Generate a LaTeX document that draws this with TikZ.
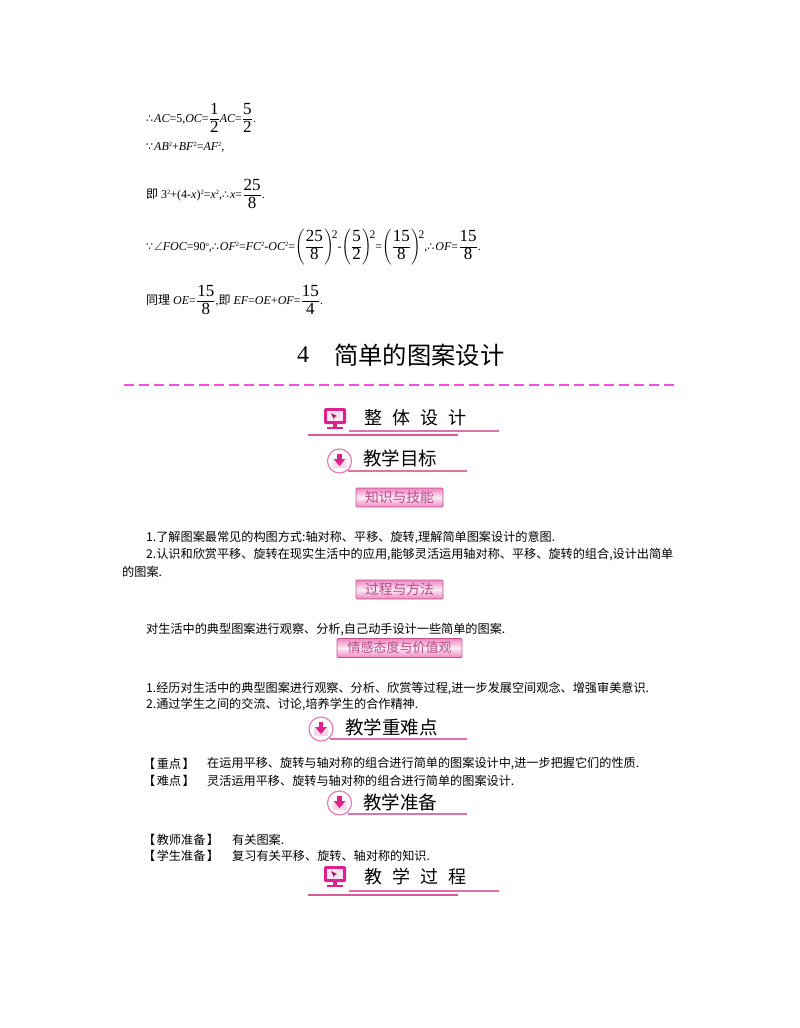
\documentclass[tikz,border=0pt]{standalone}
\usepackage{amsmath,amssymb}
\usepackage{graphicx}
\usepackage{fontspec}
\setmainfont{Noto Sans CJK SC}
\newfontfamily\lat{Liberation Serif}
\newfontfamily\symf{DejaVu Sans}
\usetikzlibrary{arrows, arrows.meta}
\usetikzlibrary{calc}
\definecolor{rosa}{HTML}{D9589F}
\definecolor{magen}{HTML}{E0208C}
\definecolor{dashpink}{HTML}{F84FE0}
\newcommand{\fsize}[1]{\fontsize{#1}{#1}\selectfont}
\setlength{\nulldelimiterspace}{1.3pt}
\newcommand{\fr}[2]{\ensuremath{\dfrac{\hbox{\fsize{17}\lat #1}}{\hbox{\fsize{17}\lat #2}}}}
\newcommand{\ii}[1]{{\lat\itshape #1}}
\newcommand{\sq}{\raisebox{3.8pt}{\fsize{6.5}\lat 2}}
\newcommand{\so}{{\fsize{11}\symf ∴}\kern1pt}
\newcommand{\since}{{\fsize{11}\symf ∵}\kern1pt}
\newcommand{\pw}[1]{\ensuremath{\left(\fr#1\right)}\kern-2pt\raisebox{12pt}{\fsize{11.5}\lat 2}}
\tikzset{
    body/.style={anchor=west, inner sep=0pt, yshift=-1.5pt, font=\fsize{12.15}},
    mathline/.style={anchor=west, inner sep=0pt, font=\fsize{12}\lat},
    headbig/.style={anchor=west, inner sep=0pt, font=\fsize{18}},
    headmid/.style={anchor=west, inner sep=0pt, font=\fsize{18.5}},
    tagbox/.style={draw=rosa!90!black, line width=0.7pt, rounded corners=1pt, top color=magen!55, bottom color=magen!55, middle color=magen!8, text=rosa!85!black, inner sep=0pt, font=\fsize{13.8}, minimum height=19pt},
    thinrule/.style={draw=rosa!85, line width=1.15pt},
    thickrule/.style={draw=rosa, line width=1.5pt},
    pics/screen/.style={code={
        \fill [magen, rounded corners=1.5pt] (0,0) rectangle (22,16);
        \fill [magen!12] (3,3) rectangle (19,13);
        \fill [magen!70!black] (7,5) -- (13,8) -- (10.5,9) -- (10,11.5) -- cycle;
        \fill [magen] (9,16) rectangle (13,18.5);
        \fill [magen] (3,18.5) rectangle (19,21);
    }},
    pics/mailcircle/.style={code={
        \draw [rosa!80, fill=white, line width=1.15pt] (0,0) circle (12);
        \fill [magen!18] (-7,-1) -- (0,4) -- (7,-1) -- (7,7) -- (-7,7) -- cycle;
        \fill [magen] (-2.2,-7) rectangle (2.2,-1);
        \fill [magen] (-6,-2) -- (6,-2) -- (0,5) -- cycle;
    }}
}
\begin{document}
\begin{tikzpicture}[x=1pt,y=-1pt]
    \useasboundingbox (0,0) rectangle (800,1028);

    % rules
    \draw [draw=dashpink, line width=1.15pt, dash pattern=on 10pt off 5pt] (124,385) -- (677,385);
    \draw [thinrule] (349,431) -- (499,431);
    \draw [thickrule] (308,435) -- (458,435);
    \draw [thinrule] (348,471) -- (467,471);
    \draw [thinrule] (330,739) -- (467,739);
    \draw [thinrule] (348,814) -- (467,814);
    \draw [thinrule] (349,891) -- (499,891);
    \draw [thickrule] (308,895) -- (458,895);

    % worked solution
    \node [mathline] (lineone) at (146,118) {\so\ii{AC}=5,\ii{OC}=\fr{1}{2}\ii{AC}=\fr{5}{2}.};
    \node [mathline] (linetwo) at (146,147) {\since\ii{AB}\sq+\ii{BF}\sq=\ii{AF}\sq,};
    \node [mathline] (linethree) at (146,194) {{\fsize{12}\rmfamily 即} 3\sq+(4-\ii{x})\sq=\ii{x}\sq,\so\ii{x}=\fr{25}{8}.};
    \node [mathline] (linefour) at (146,247) {\since$\angle$\ii{FOC}=90\raisebox{3.8pt}{\fsize{6.5}o},\so\ii{OF}\sq=\ii{FC}\sq-\ii{OC}\sq=\pw{{25}{8}}-\pw{{5}{2}}=\pw{{15}{8}},\so\ii{OF}=\fr{15}{8}.};
    \node [mathline] (linefive) at (146,300) {{\fsize{12}\rmfamily 同理} \ii{OE}=\fr{15}{8},{\fsize{12}\rmfamily 即} \ii{EF}=\ii{OE}+\ii{OF}=\fr{15}{4}.};

    % title
    \node [anchor=west, inner sep=0pt, font=\fsize{24}] (titlenum) at (297,355) {\lat 4};
    \node [anchor=west, inner sep=0pt, font=\fsize{24.3}] (title) at (334,355) {简单的图案设计};

    % first heading
    \pic at (324,408) {screen};
    \node [headbig] (headone) at (364,418) {整\hspace{10pt}体\hspace{10pt}设\hspace{10pt}计};

    \pic at (339.5,461) {mailcircle};
    \node [headmid] (headgoal) at (363,458) {教学目标};

    \node [tagbox, minimum width=87pt] (tagone) at (399.5,497.5) {知识与技能};
    \node [body] (goalone) at (146,536) {1.了解图案最常见的构图方式:轴对称、平移、旋转,理解简单图案设计的意图.};
    \node [body] (goaltwo) at (146,552.5) {2.认识和欣赏平移、旋转在现实生活中的应用,能够灵活运用轴对称、平移、旋转的组合,设计出简单};
    \node [body] (goaltwob) at (122,570) {的图案.};

    \node [tagbox, minimum width=87pt] (tagtwo) at (399.5,589.5) {过程与方法};
    \node [body] (method) at (146,628) {对生活中的典型图案进行观察、分析,自己动手设计一些简单的图案.};

    \node [tagbox, minimum width=125pt, font=\fsize{13}] (tagthree) at (399.5,648) {情感态度与价值观};
    \node [body] (feelone) at (146,687) {1.经历对生活中的典型图案进行观察、分析、欣赏等过程,进一步发展空间观念、增强审美意识.};
    \node [body] (feeltwo) at (146,703) {2.通过学生之间的交流、讨论,培养学生的合作精神.};

    % key points
    \pic at (321,729) {mailcircle};
    \node [headmid] (headkey) at (345,727) {教学重难点};
    \node [body] (keyone) at (143,762) {【\kern1.5pt重点\kern1.5pt】};
    \node [body] (keyonetxt) at (207,762) {在运用平移、旋转与轴对称的组合进行简单的图案设计中,进一步把握它们的性质.};
    \node [body] (keytwo) at (143,779) {【\kern1.5pt难点\kern1.5pt】};
    \node [body] (keytwotxt) at (207,779) {灵活运用平移、旋转与轴对称的组合进行简单的图案设计.};

    % preparation
    \pic at (339.5,803) {mailcircle};
    \node [headmid] (headprep) at (363,802) {教学准备};
    \node [body] (prepone) at (143,838) {【\kern1.5pt教师准备\kern1.5pt】};
    \node [body] (preponetxt) at (232,838) {有关图案.};
    \node [body] (preptwo) at (143,854) {【\kern1.5pt学生准备\kern1.5pt】};
    \node [body] (preptwotxt) at (232,854) {复习有关平移、旋转、轴对称的知识.};

    % last heading
    \pic at (324,866) {screen};
    \node [headbig] (headproc) at (364,877) {教\hspace{10pt}学\hspace{10pt}过\hspace{10pt}程};
\end{tikzpicture}
\end{document}
